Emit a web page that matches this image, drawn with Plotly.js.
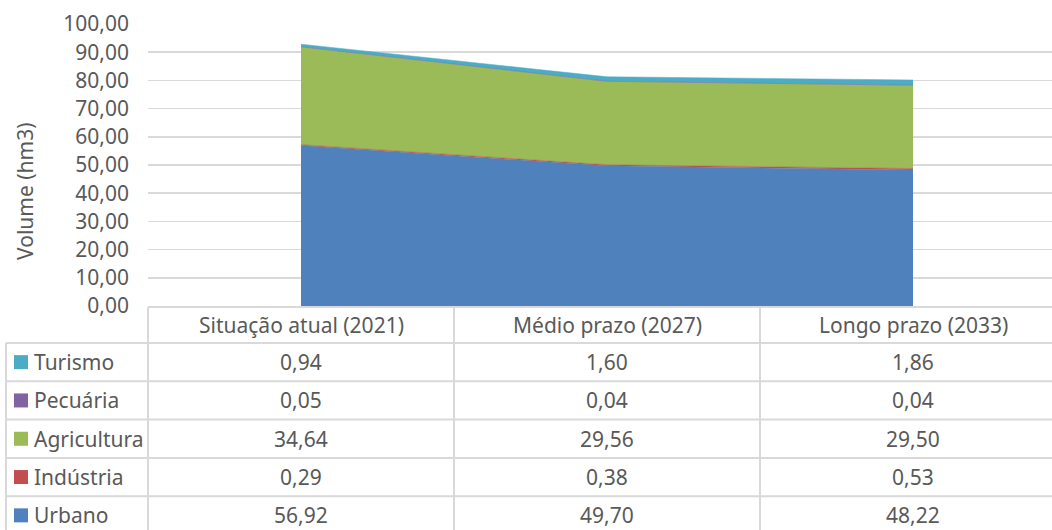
<!DOCTYPE html>
<html>
<head>
<meta charset="utf-8">
<script src="https://cdn.plot.ly/plotly-3.0.1.min.js"></script>
<style>
html,body{margin:0;padding:0;overflow:hidden;background:#fff;}
#chart{width:1066px;height:530px;}
</style>
</head>
<body>
<div id="chart"></div>
<script>
const categories = ['Situação atual (2021)', 'Médio prazo (2027)', 'Longo prazo (2033)'];
const seriesNames = ['Urbano', 'Indústria', 'Agricultura', 'Pecuária', 'Turismo'];
const urbano = [56.92, 49.70, 48.22];
const industria = [0.29, 0.38, 0.53];
const agricultura = [34.64, 29.56, 29.50];
const pecuaria = [0.05, 0.04, 0.04];
const turismo = [0.94, 1.60, 1.86];
const colors = ['#4F81BD', '#C0504D', '#9BBB59', '#8064A2', '#4BACC6'];
const yTitle = 'Volume (hm3)';

const values = [urbano, industria, agricultura, pecuaria, turismo];
const xIdx = categories.map((c, i) => i);

const traces = seriesNames.map((name, k) => ({
  type: 'scatter', mode: 'lines', name: name,
  x: xIdx, y: values[k], stackgroup: 'one',
  fillcolor: colors[k], line: {color: colors[k], width: 0.5},
  hoverinfo: 'skip'
}));

// geometry (pixels)
const W = 1066, H = 530;
const L = 148, T = 24, B = 306; // plot area
const PW = W - L, PH = B - T;
const px = p => (p - L) / PW;
const py = p => (B - p) / PH;

const textColor = '#595959';
const fontFam = 'Noto Sans, sans-serif';
const fs = 21;
const lineCol = '#D9D9D9';

const shapes = [];
const annotations = [];
const hline = (x0, x1, y) => shapes.push({type:'line', xref:'paper', yref:'paper', x0:px(x0), x1:px(x1), y0:py(y), y1:py(y), line:{color:lineCol, width:2}});
const vline = (x, y0, y1) => shapes.push({type:'line', xref:'paper', yref:'paper', x0:px(x), x1:px(x), y0:py(y0), y1:py(y1), line:{color:lineCol, width:2}});

const colEdges = [148, 454, 760, 1066];
const headerTop = 307, headerBot = 343;
const rowH = 38.3;
const rowOrder = [4, 3, 2, 1, 0]; // Turismo, Pecuária, Agricultura, Indústria, Urbano
const rowTops = rowOrder.map((_, r) => headerBot + r * rowH);

hline(148, W, headerTop);
rowTops.forEach(t => hline(6, W, t));
vline(6, headerBot, H + 2);
colEdges.slice(0, 3).forEach(x => vline(x, headerTop, H + 2));

const fmt = v => v.toFixed(2).replace('.', ',');

// header
categories.forEach((c, i) => {
  annotations.push({xref:'paper', yref:'paper', x: px((colEdges[i] + colEdges[i+1]) / 2), y: py((headerTop + headerBot) / 2),
    text: c, showarrow:false, xanchor:'center', yanchor:'middle', font:{family:fontFam, size:fs, color:textColor}});
});

rowOrder.forEach((k, r) => {
  const yc = rowTops[r] + rowH / 2;
  shapes.push({type:'rect', xref:'paper', yref:'paper', x0:px(14), x1:px(28), y0:py(yc - 7), y1:py(yc + 7), line:{width:0}, fillcolor:colors[k]});
  annotations.push({xref:'paper', yref:'paper', x: px(32), y: py(yc), text: seriesNames[k], showarrow:false,
    xanchor:'left', yanchor:'middle', font:{family:fontFam, size:fs, color:textColor}});
  values[k].forEach((v, i) => {
    annotations.push({xref:'paper', yref:'paper', x: px((colEdges[i] + colEdges[i+1]) / 2), y: py(yc),
      text: fmt(v), showarrow:false, xanchor:'center', yanchor:'middle', font:{family:fontFam, size:fs, color:textColor}});
  });
});

annotations.push({xref:'paper', yref:'paper', x: px(25), y: py(192), text: yTitle, textangle: -90, showarrow:false,
  xanchor:'center', yanchor:'middle', font:{family:fontFam, size:fs, color:textColor}});

const layout = {
  width: W, height: H,
  margin: {l: L, r: 0, t: T, b: H - B, pad: 0},
  paper_bgcolor: '#fff', plot_bgcolor: '#fff',
  separators: ',.',
  showlegend: false,
  hovermode: false,
  xaxis: {range: [-0.5, 2.5], showticklabels: false, showgrid: false, zeroline: false, showline: false, ticks: '', fixedrange: true},
  yaxis: {range: [0, 100], dtick: 10, tickformat: '.2f', showgrid: true, gridcolor: lineCol, gridwidth: 1.5,
    zeroline: false, showline: false, ticks: '', ticklabelstandoff: 18,
    tickfont: {family: fontFam, size: fs, color: textColor}, fixedrange: true},
  shapes: shapes,
  annotations: annotations
};

Plotly.newPlot('chart', traces, layout, {displayModeBar: false, staticPlot: true});
</script>
</body>
</html>
